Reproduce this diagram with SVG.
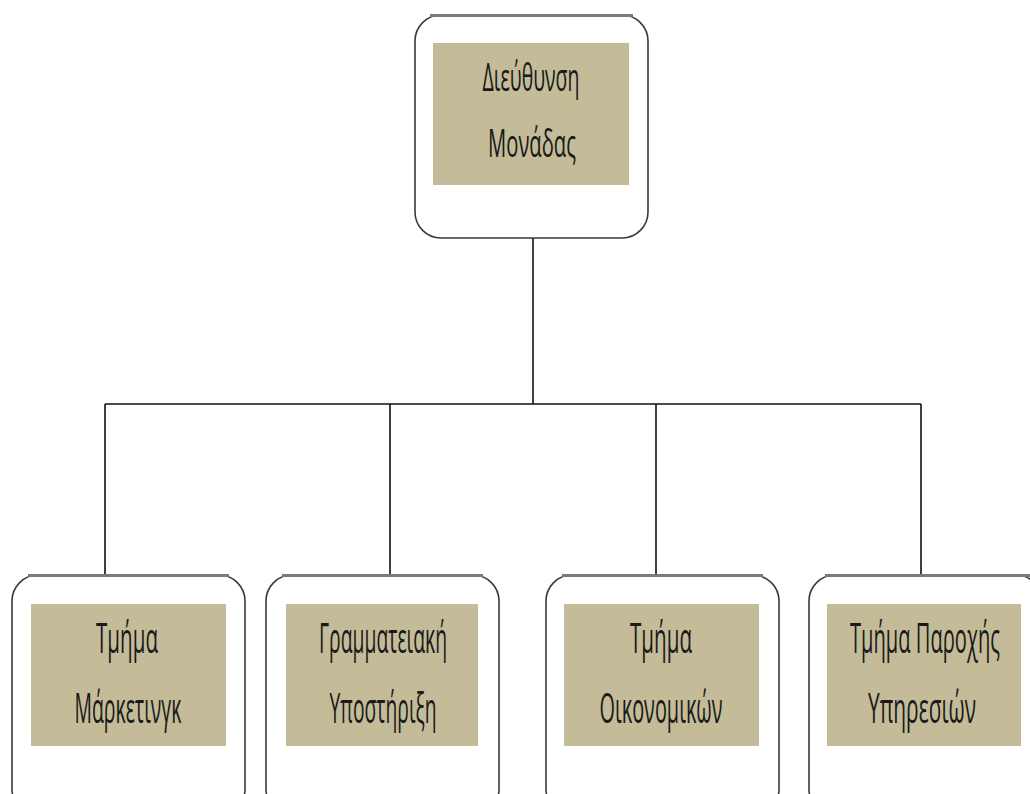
<svg xmlns="http://www.w3.org/2000/svg" width="1030" height="794" viewBox="0 0 1030 794">
<style>
.outer{fill:#fff;stroke:#3a3a3a;stroke-width:1.6}
.topedge{stroke:#7a7a7a;stroke-width:3}
.inner{fill:#c4bc98}
.t{font-family:"Open Sans","Liberation Sans",sans-serif;font-size:38px;fill:#1a1a1a;text-anchor:middle}
.b{font-size:42px}
.c{stroke:#111;stroke-width:1.6;fill:none}
</style>
<rect width="1030" height="794" fill="#fff"/>
<g id="connectors">
<path class="c" d="M533 238V404M105 404H921M105 404V576M390 404V576M656 404V576M921 404V576"/>
</g>
<g id="n0">
<rect class="outer" x="415" y="15" width="233" height="223" rx="26"/>
<line class="topedge" x1="430" y1="15.5" x2="633" y2="15.5"/>
<rect class="inner" x="433" y="43" width="196" height="142"/>
<g transform="scale(0.55 1)">
<text class="t" x="965.5" y="91" textLength="176.4" lengthAdjust="spacingAndGlyphs">Διεύθυνση</text>
<text class="t" x="967.3" y="157" textLength="160" lengthAdjust="spacingAndGlyphs">Μονάδας</text>
</g>
</g>
<g id="n1">
<rect class="outer" x="12" y="575" width="233" height="240" rx="26"/>
<line class="topedge" x1="28" y1="575.5" x2="229" y2="575.5"/>
<rect class="inner" x="31" y="604" width="195" height="142"/>
<g transform="scale(0.55 1)">
<text class="t b" x="230.9" y="653" textLength="112.7" lengthAdjust="spacingAndGlyphs">Τμήμα</text>
<text class="t b" x="232.7" y="723" textLength="194.5" lengthAdjust="spacingAndGlyphs">Μάρκετινγκ</text>
</g>
</g>
<g id="n2">
<rect class="outer" x="266" y="575" width="233" height="240" rx="26"/>
<line class="topedge" x1="282" y1="575.5" x2="483" y2="575.5"/>
<rect class="inner" x="286" y="604" width="192" height="142"/>
<g transform="scale(0.55 1)">
<text class="t b" x="696.4" y="653" textLength="232.7" lengthAdjust="spacingAndGlyphs">Γραμματειακή</text>
<text class="t b" x="696.4" y="723" textLength="194.5" lengthAdjust="spacingAndGlyphs">Υποστήριξη</text>
</g>
</g>
<g id="n3">
<rect class="outer" x="546" y="575" width="233" height="240" rx="26"/>
<line class="topedge" x1="562" y1="575.5" x2="763" y2="575.5"/>
<rect class="inner" x="564" y="604" width="195" height="142"/>
<g transform="scale(0.55 1)">
<text class="t b" x="1201.8" y="653" textLength="112.7" lengthAdjust="spacingAndGlyphs">Τμήμα</text>
<text class="t b" x="1201.8" y="723" textLength="223.6" lengthAdjust="spacingAndGlyphs">Οικονομικών</text>
</g>
</g>
<g id="n4">
<rect class="outer" x="809" y="575" width="233" height="240" rx="26"/>
<line class="topedge" x1="825" y1="575.5" x2="1030" y2="575.5"/>
<rect class="inner" x="827" y="604" width="194" height="142"/>
<g transform="scale(0.55 1)">
<text class="t b" x="1681.8" y="653" textLength="272.7" lengthAdjust="spacingAndGlyphs">Τμήμα Παροχής</text>
<text class="t b" x="1676.4" y="723" textLength="196.4" lengthAdjust="spacingAndGlyphs">Υπηρεσιών</text>
</g>
</g>
</svg>
